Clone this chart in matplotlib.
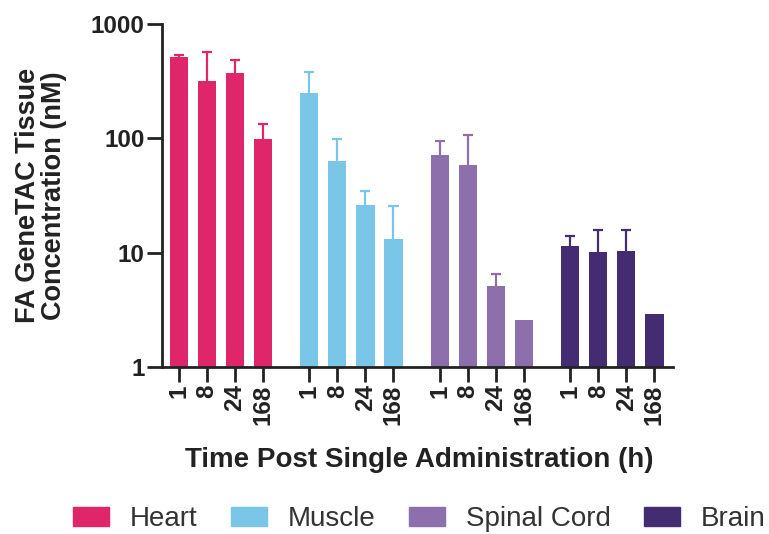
import numpy as np
import matplotlib.pyplot as plt
from matplotlib.patches import Patch

plt.rcParams['font.family'] = ['Liberation Sans', 'DejaVu Sans']

tissues = ["Heart", "Muscle", "Spinal Cord", "Brain"]
times = ["1", "8", "24", "168"]
colors = ["#E0266A", "#7AC6E8", "#8D6FAC", "#432C72"]

heart = [513, 316, 376, 99.5]
muscle = [248, 63, 26.3, 13.1]
spinal = [71, 58.5, 5.1, 2.58]
brain = [11.5, 10.1, 10.3, 2.93]

# upper end of the error bar (nan = no error bar)
heart_top = [540, 566, 488, 133]
muscle_top = [383, 98, 34.9, 25.6]
spinal_top = [95, 106, 6.55, np.nan]
brain_top = [13.9, 15.9, 15.9, np.nan]

values = [heart, muscle, spinal, brain]
tops = [heart_top, muscle_top, spinal_top, brain_top]

fig = plt.figure(figsize=(7.69, 5.34), dpi=100)
ax = fig.add_axes([0.2107, 0.3127, 0.664, 0.6423])

group_gap = 4.65
cap = 0.18
all_x = []
for g, (vals, top, c) in enumerate(zip(values, tops, colors)):
    x = np.arange(4) + g * group_gap
    all_x.extend(x)
    ax.bar(x, vals, width=0.65, color=c, zorder=2)
    for xi, v, t in zip(x, vals, top):
        if np.isnan(t):
            continue
        ax.vlines(xi, v, t, color=c, lw=1.6, zorder=1)
        ax.hlines(t, xi - cap, xi + cap, color=c, lw=1.6, zorder=1)

ax.set_yscale("log")
ax.set_ylim(1, 1000)
ax.set_xlim(-0.6, 17.6)
ax.set_yticks([1, 10, 100, 1000])
ax.set_yticklabels(["1", "10", "100", "1000"])
ax.yaxis.set_minor_locator(plt.NullLocator())
ax.set_xticks(all_x)
ax.set_xticklabels(times * 4, rotation=90)

for s in ["top", "right"]:
    ax.spines[s].set_visible(False)
for s in ["left", "bottom"]:
    ax.spines[s].set_linewidth(2)
    ax.spines[s].set_color("#222222")
ax.tick_params(axis="both", width=2, length=10.5, color="#222222", labelsize=17.5, pad=2)
for lbl in ax.get_xticklabels() + ax.get_yticklabels():
    lbl.set_fontweight("bold")
    lbl.set_color("#222222")

ax.set_ylabel("FA GeneTAC Tissue\nConcentration (nM)", fontsize=19.5, fontweight="bold",
              color="#222222", linespacing=1.0)
ax.yaxis.set_label_coords(-0.186, 0.5)
ax.set_xlabel("Time Post Single Administration (h)", fontsize=20, fontweight="bold",
              color="#222222")
ax.xaxis.set_label_coords(0.503, -0.233)

handles = [Patch(color=c, label=t) for c, t in zip(colors, tissues)]
fig.legend(handles=handles, loc="center", bbox_to_anchor=(0.545, 0.028), ncol=4,
           frameon=False, fontsize=20, handlelength=1.3, handleheight=0.68,
           columnspacing=1.2, handletextpad=0.75, borderpad=0, borderaxespad=0)
for t in fig.legends[0].get_texts():
    t.set_color("#333333")

fig.savefig("out.png", dpi=100)
